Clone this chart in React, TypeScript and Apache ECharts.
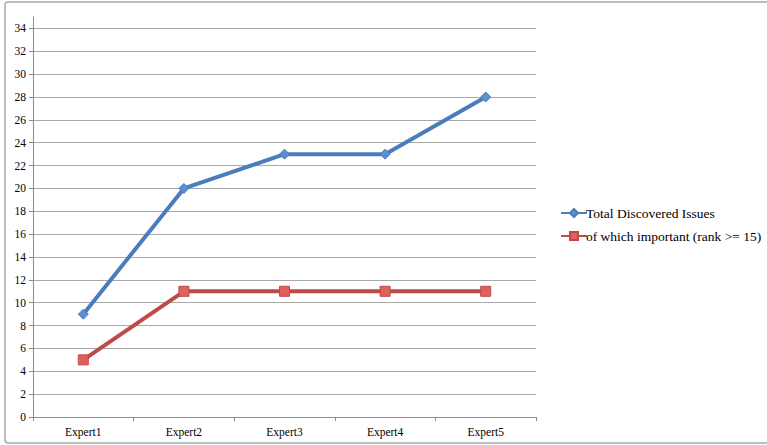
import React, { useEffect, useRef } from "react";
import * as echarts from "echarts";

const categories = ["Expert1", "Expert2", "Expert3", "Expert4", "Expert5"];
const totalIssues = [9, 20, 23, 23, 28];
const importantIssues = [5, 11, 11, 11, 11];
const seriesNames = ["Total Discovered Issues", "of which important (rank >= 15)"];

const FONT = "'Times New Roman', 'Liberation Serif', 'DejaVu Serif', serif";
const AXIS_FONT = "serif";

export default function App() {
  const ref = useRef<HTMLDivElement>(null);
  useEffect(() => {
    if (!ref.current) return;
    const chart = echarts.init(ref.current, undefined, { renderer: "svg" });
    chart.setOption({
      animation: false,
      backgroundColor: "#ffffff",
      textStyle: { fontFamily: FONT },
      graphic: [
        {
          type: "rect",
          shape: { x: 5, y: 2, width: 800, height: 441, r: 3 },
          style: { fill: "none", stroke: "#a8a8a8", lineWidth: 1.5 },
          silent: true,
          z: -1,
        },
      ],
      grid: { left: 33, right: 231, top: 17, bottom: 28, containLabel: false },
      legend: {
        orient: "vertical",
        left: 555,
        top: 201,
        itemWidth: 26,
        itemHeight: 10,
        itemGap: 9,
        textStyle: { fontFamily: FONT, fontSize: 13.5, color: "#000", padding: [0, 0, 0, -6] },
        data: seriesNames,
      },
      xAxis: {
        type: "category",
        data: categories,
        boundaryGap: true,
        axisLine: { lineStyle: { color: "#8c8c8c", width: 1 } },
        axisTick: { show: true, length: 4, lineStyle: { color: "#8c8c8c" } },
        axisLabel: { fontFamily: AXIS_FONT, fontSize: 11.5, color: "#000", margin: 9 },
        splitLine: { show: false },
      },
      yAxis: {
        type: "value",
        min: 0,
        max: 35,
        interval: 2,
        axisLine: { show: true, lineStyle: { color: "#8c8c8c", width: 1 } },
        axisTick: { show: true, length: 4, lineStyle: { color: "#8c8c8c" } },
        axisLabel: {
          fontFamily: AXIS_FONT,
          fontSize: 11.5,
          color: "#000",
          margin: 7,
          showMaxLabel: false,
          formatter: (v: number) => (v > 34 ? "" : String(v)),
        },
        splitLine: { show: true, showMaxLine: false, lineStyle: { color: "#a9a9a9", width: 1 } },
      },
      series: [
        {
          name: seriesNames[0],
          type: "line",
          data: totalIssues,
          symbol: "diamond",
          symbolSize: 10,
          lineStyle: { color: "#4a7ebb", width: 4 },
          itemStyle: { color: "#5b8fd0", borderColor: "#4a7ebb", borderWidth: 1 },
        },
        {
          name: seriesNames[1],
          type: "line",
          data: importantIssues,
          symbol: "rect",
          symbolSize: 10,
          lineStyle: { color: "#be4b48", width: 4 },
          itemStyle: { color: "#e0605c", borderColor: "#be4b48", borderWidth: 1 },
        },
      ],
    });
    return () => chart.dispose();
  }, []);
  return (
    <div
      ref={ref}
      style={{ position: "fixed", left: 0, top: 0, width: 767, height: 445 }}
    />
  );
}
